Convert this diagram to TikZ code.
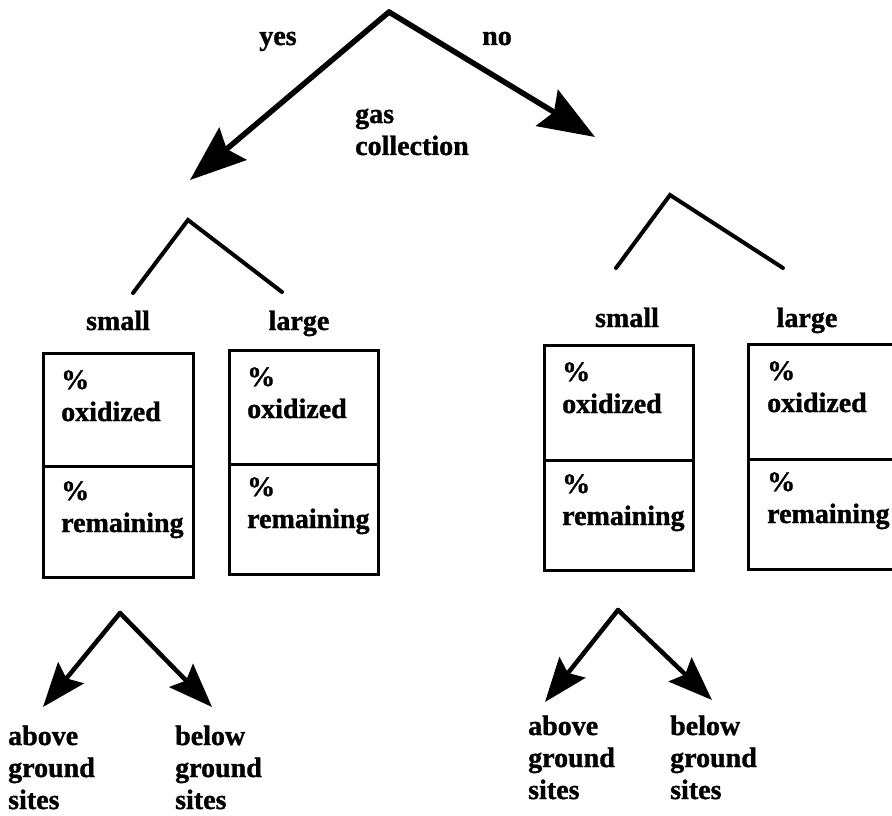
\documentclass[tikz,border=0pt]{standalone}
\usepackage{fontspec}
\setmainfont{Liberation Serif}[BoldFeatures={FakeBold=1.2}]
\usetikzlibrary{arrows.meta}
\begin{document}
\begin{tikzpicture}[x=1pt,y=-1pt,
  lbl/.style={font=\bfseries\fontsize{28}{32}\selectfont, inner sep=0pt},
  ml/.style={lbl, text width=170pt, align=left, anchor=base west},
  bigarrow/.style={line width=5.5pt, line cap=round, -{Stealth[length=56pt,width=42pt,inset=8pt]}},
  smallarrow/.style={line width=4.5pt, line cap=round, -{Stealth[length=44pt,width=33pt,inset=7pt]}},
  branch/.style={line width=4pt, line cap=round, line join=miter},
  cell/.style={draw, line width=3pt, rectangle, inner sep=0pt, anchor=north west}]
\useasboundingbox (0,0) rectangle (892,816);
\fill[white] (0,0) rectangle (892,816);

% top decision
\coordinate (top) at (389,12);
\coordinate (yesTip) at (190,180);
\coordinate (noTip) at (595,137);
\draw[bigarrow] (top) -- (yesTip);
\draw[bigarrow] (top) -- (noTip);
\node[lbl, anchor=base] (yes) at (278,45) {yes};
\node[lbl, anchor=base] (no) at (497,45) {no};
\node[ml] (gas) at (355,123) {gas\\collection};

% left subtree
\coordinate (Lapex) at (188,220);
\coordinate (Lleft) at (133,293);
\coordinate (Lright) at (282,292);
\draw[branch] (Lleft) -- (Lapex) -- (Lright);
\node[lbl, anchor=base] (Lsmall) at (118,330) {small};
\node[lbl, anchor=base] (Llarge) at (299,330) {large};

\node[cell, minimum width=150pt, minimum height=113pt] (b1u) at (42,352) {};
\node[cell, minimum width=150pt, minimum height=111pt] (b1l) at (42,465) {};
\node[ml] (t1u) at (61,389) {\%\\oxidized};
\node[ml] (t1l) at (61,500) {\%\\remaining};

\node[cell, minimum width=149pt, minimum height=114pt] (b2u) at (228,349) {};
\node[cell, minimum width=149pt, minimum height=110pt] (b2l) at (228,463) {};
\node[ml] (t2u) at (247,386) {\%\\oxidized};
\node[ml] (t2l) at (247,496) {\%\\remaining};

% right subtree
\coordinate (Rapex) at (670,195);
\coordinate (Rleft) at (616,268);
\coordinate (Rright) at (783,268);
\draw[branch] (Rleft) -- (Rapex) -- (Rright);
\node[lbl, anchor=base] (Rsmall) at (627,327) {small};
\node[lbl, anchor=base] (Rlarge) at (807,327) {large};

\node[cell, minimum width=149pt, minimum height=115pt] (b3u) at (543,344) {};
\node[cell, minimum width=149pt, minimum height=110pt] (b3l) at (543,459) {};
\node[ml] (t3u) at (562,381) {\%\\oxidized};
\node[ml] (t3l) at (562,493) {\%\\remaining};

\node[cell, minimum width=150pt, minimum height=115pt] (b4u) at (747,343) {};
\node[cell, minimum width=150pt, minimum height=110pt] (b4l) at (747,458) {};
\node[ml] (t4u) at (767,380) {\%\\oxidized};
\node[ml] (t4l) at (767,491) {\%\\remaining};

% bottom left arrows
\coordinate (BLapex) at (120,613);
\coordinate (BLa) at (43,707);
\coordinate (BLb) at (212,707);
\draw[smallarrow] (BLapex) -- (BLa);
\draw[smallarrow] (BLapex) -- (BLb);
\node[ml] (BLabove) at (8,745) {above\\ground\\sites};
\node[ml] (BLbelow) at (175,745) {below\\ground\\sites};

% bottom right arrows
\coordinate (BRapex) at (618,610);
\coordinate (BRa) at (545,702);
\coordinate (BRb) at (712,700);
\draw[smallarrow] (BRapex) -- (BRa);
\draw[smallarrow] (BRapex) -- (BRb);
\node[ml] (BRabove) at (528,735) {above\\ground\\sites};
\node[ml] (BRbelow) at (670,735) {below\\ground\\sites};
\end{tikzpicture}
\end{document}
